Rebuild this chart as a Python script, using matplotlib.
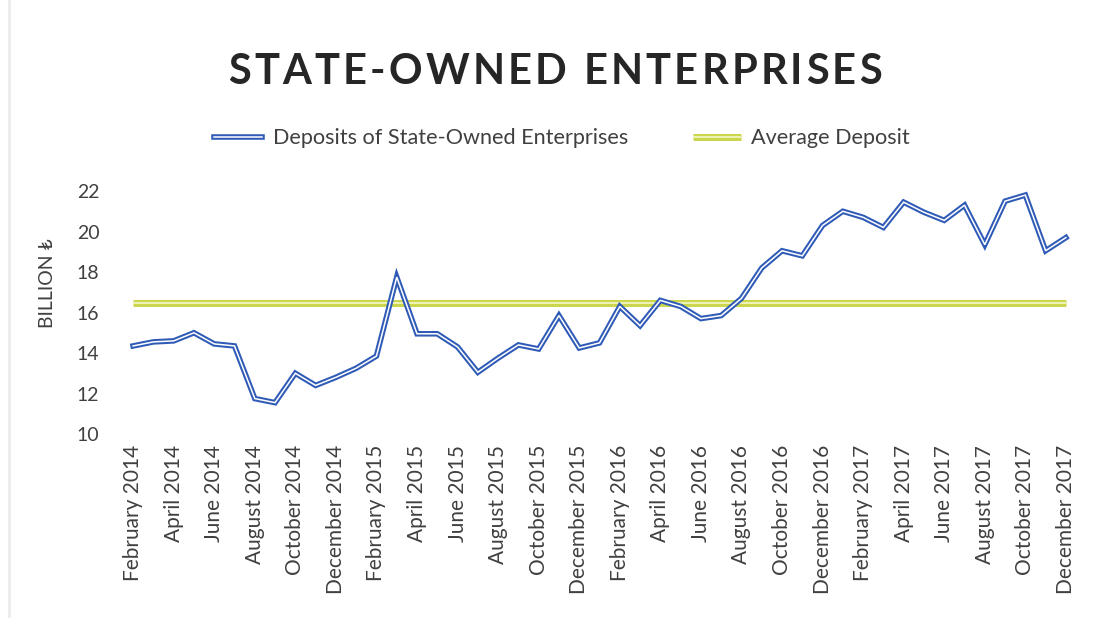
import matplotlib
matplotlib.use("Agg")
import matplotlib.pyplot as plt
import matplotlib.patheffects as pe
import numpy as np

# Monthly deposits, February 2014 - December 2017 (billion TRY)
deposits = [
    14.35, 14.55, 14.60, 15.00, 14.45, 14.35, 11.75, 11.55, 13.00, 12.40, 12.80,        # 2014
    13.25, 13.85, 17.75, 14.95, 14.95, 14.30, 13.05, 13.75, 14.40, 14.20, 15.85, 14.25,  # 2015
    14.50, 16.30, 15.35, 16.60, 16.30, 15.70, 15.85, 16.70, 18.20, 19.05, 18.80, 20.30,  # 2016
    21.00, 20.70, 20.20, 21.45, 20.95, 20.55, 21.30, 19.35, 21.50, 21.80, 19.05, 19.70,  # 2017
]
average_deposit = 16.48

tick_labels = [
    "February 2014", "April 2014", "June 2014", "August 2014", "October 2014", "December 2014",
    "February 2015", "April 2015", "June 2015", "August 2015", "October 2015", "December 2015",
    "February 2016", "April 2016", "June 2016", "August 2016", "October 2016", "December 2016",
    "February 2017", "April 2017", "June 2017", "August 2017", "October 2017", "December 2017",
]
y_ticks = [10, 12, 14, 16, 18, 20, 22]

title = "STATE-OWNED ENTERPRISES"
series_name = "Deposits of State-Owned Enterprises"
average_name = "Average Deposit"
y_label = "BILLION \u20ba"

plt.rcParams["font.family"] = ["Lato", "DejaVu Sans"]
text_color = "#404040"

fig = plt.figure(figsize=(10.98, 6.18), dpi=100)
ax = fig.add_axes([0.112, 0.2977, 0.868, 0.3932])

x = np.arange(len(deposits))

blue = "#2f5bb7"
green = "#cbd64c"

ax.plot(x, [average_deposit] * len(x), color="#eef3b8", lw=1.4, solid_capstyle="butt",
        label=average_name, zorder=2,
        path_effects=[pe.Stroke(linewidth=5.0, foreground=green), pe.Normal()])
ax.plot(x, deposits, color="white", lw=1.1, solid_joinstyle="miter",
        label=series_name, zorder=3,
        path_effects=[pe.Stroke(linewidth=4.0, foreground=blue, joinstyle="miter"), pe.Normal()])

ax.set_xlim(-0.5, len(deposits) - 0.5)
ax.set_ylim(10, 22)
ax.set_yticks(y_ticks)
ax.set_yticklabels([str(v) for v in y_ticks])
ax.set_xticks(x[::2])
ax.set_xticklabels(tick_labels, rotation=90)

ax.tick_params(axis="y", length=0, pad=17, labelsize=14, labelcolor=text_color)
ax.tick_params(axis="x", length=0, pad=8, labelsize=15, labelcolor=text_color)
for s in ax.spines.values():
    s.set_visible(False)

fig.text(0.043, 0.542, y_label, rotation=90, ha="center", va="center",
         fontsize=14, color=text_color)

# Letter-spaced title, placed character by character
renderer = fig.canvas.get_renderer()
title_size = 30
tracking = 3.2  # extra pixels between letters
probe = fig.text(0, 0, title, fontsize=title_size, fontweight="bold")
fp = probe.get_fontproperties()
probe.remove()


def prefix_width(s):
    if not s:
        return 0.0
    w, _, _ = renderer.get_text_width_height_descent(s, fp, ismath=False)
    return w


total = prefix_width(title) + tracking * (len(title) - 1)
W = fig.bbox.width
x0 = 555 - total / 2
for i, ch in enumerate(title):
    if ch == " ":
        continue
    xpos = x0 + prefix_width(title[:i]) + tracking * i
    fig.text(xpos / W, 0.884, ch, fontsize=title_size, fontweight="bold",
             color="#262626", ha="left", va="center")

handles, labels = ax.get_legend_handles_labels()
leg = fig.legend(handles[::-1], labels[::-1], loc="center", bbox_to_anchor=(0.512, 0.776),
                 ncol=2, frameon=False, fontsize=15.6, handlelength=2.2,
                 columnspacing=3.0, handletextpad=0.5)
for t in leg.get_texts():
    t.set_color(text_color)

# faint scan edge on the left
fig.add_artist(plt.Line2D([0.008, 0.008], [0.0, 1.0], color="#ececec", lw=2))

fig.savefig("out.png", dpi=100)
